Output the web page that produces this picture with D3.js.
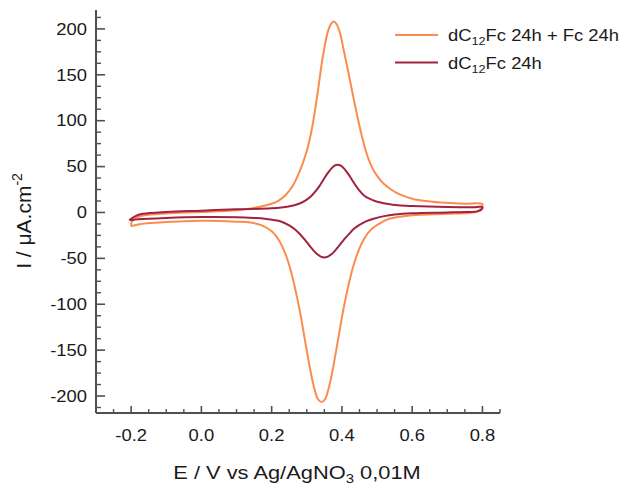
<!DOCTYPE html>
<html>
<head>
<meta charset="utf-8">
<script src="https://cdn.jsdelivr.net/npm/d3@7"></script>
<style>
  html, body { margin: 0; padding: 0; background: #fff; }
  svg { display: block; }
  text { font-family: "Liberation Sans", Arial, Helvetica, sans-serif; fill: #1a1a1a; }
</style>
</head>
<body>
<svg id="chart" width="625" height="485"></svg>
<script>
// ---- Data ----
const seriesNames = ["dC12Fc 24h + Fc 24h", "dC12Fc 24h"];

// Orange: dC12Fc 24h + Fc 24h — anodic (forward) scan
const orangeAnodicE = [-0.2, -0.198, -0.19, -0.17, -0.1, 0.0, 0.1, 0.15, 0.2, 0.22, 0.24, 0.26, 0.28, 0.30, 0.315, 0.33, 0.345, 0.36, 0.37, 0.377, 0.385, 0.395, 0.405, 0.415, 0.425, 0.435, 0.445, 0.455, 0.465, 0.475, 0.49, 0.505, 0.52, 0.54, 0.56, 0.6, 0.65, 0.7, 0.75, 0.8];
const orangeAnodicI = [-15, -10, -6.5, -3.5, -1, 0.5, 2.5, 5, 9.5, 13, 19, 29, 45, 67, 92, 128, 168, 197, 206, 208, 205, 195, 177, 159, 140, 121, 103, 86, 71, 59, 46, 37.5, 31, 25, 20.5, 15, 12, 10.5, 9.6, 9];
// Orange — cathodic (reverse) scan
const orangeCathodicE = [0.797, 0.785, 0.76, 0.7, 0.6, 0.56, 0.53, 0.512, 0.482, 0.462, 0.442, 0.427, 0.412, 0.402, 0.392, 0.382, 0.372, 0.362, 0.352, 0.342, 0.332, 0.322, 0.312, 0.302, 0.292, 0.282, 0.272, 0.257, 0.242, 0.222, 0.202, 0.172, 0.14, 0.1, 0.05, 0.0, -0.1, -0.18, -0.2];
const orangeCathodicI = [5, 1, -0.5, -1.5, -3, -5, -7.5, -11, -19, -29.5, -47, -66, -91, -110, -132, -154, -175, -192, -203.5, -206.5, -203.5, -192.5, -175.5, -155, -133, -111, -92, -67, -48, -31, -21, -14, -11, -10, -9.2, -9, -10.5, -13, -15];

// Red: dC12Fc 24h — anodic scan
const redAnodicE = [-0.205, -0.2, -0.185, -0.166, -0.1, 0.0, 0.1, 0.2, 0.248, 0.278, 0.298, 0.313, 0.328, 0.338, 0.348, 0.358, 0.368, 0.378, 0.388, 0.398, 0.408, 0.418, 0.428, 0.438, 0.448, 0.463, 0.478, 0.498, 0.528, 0.56, 0.6, 0.7, 0.78, 0.8];
const redAnodicI = [-9, -7, -3.5, -1.5, 0.5, 2, 3.5, 4.5, 6.5, 9.5, 13.5, 18, 24.5, 30, 36, 42, 47, 50.7, 52, 50.7, 47, 42, 36, 30, 24.7, 18.5, 15, 12, 9.5, 7.8, 7, 6, 5.8, 6];
// Red — cathodic scan
const redCathodicE = [0.797, 0.785, 0.75, 0.7, 0.6, 0.55, 0.52, 0.49, 0.47, 0.45, 0.435, 0.42, 0.41, 0.4, 0.39, 0.38, 0.37, 0.36, 0.35, 0.34, 0.33, 0.32, 0.31, 0.3, 0.29, 0.28, 0.265, 0.25, 0.23, 0.21, 0.18, 0.15, 0.1, 0.0, -0.1, -0.18, -0.2];
const redCathodicI = [3, 1.2, 0.5, 0, -0.8, -2.2, -4, -6.8, -9.5, -13.5, -17.5, -23.5, -27.7, -32.4, -37.3, -41.8, -45.6, -48.1, -49, -48.1, -45.6, -41.8, -37.3, -32.4, -27.7, -23.5, -18.1, -14.1, -10.4, -8.5, -6.8, -6, -5.2, -5, -6, -7.5, -8.5];

// Ticks
const xMajorTicks = [-0.2, 0.0, 0.2, 0.4, 0.6, 0.8];
const xTickLabels = ["-0.2", "0.0", "0.2", "0.4", "0.6", "0.8"];
const xMinorTicks = [-0.25, -0.15, -0.1, -0.05, 0.05, 0.1, 0.15, 0.25, 0.3, 0.35, 0.45, 0.5, 0.55, 0.65, 0.7, 0.75, 0.85];
const yMajorTicks = [-200, -150, -100, -50, 0, 50, 100, 150, 200];
const yTickLabels = ["-200", "-150", "-100", "-50", "0", "50", "100", "150", "200"];
const yMinorTicks = d3.range(-212.5, 215, 12.5).filter(v => v % 50 !== 0);

// ---- Layout ----
const svg = d3.select("#chart");
const colors = ["#fc8c4d", "#a3223e"];
const stretch = 1.15;

const x = d3.scaleLinear().domain([-0.3, 0.85]).range([96, 500]);
const y = d3.scaleLinear().domain([-218.5, 220.6]).range([413, 10]);

const axisColor = "#505050";

// Y axis
const yAxisG = svg.append("g").attr("transform", `translate(${x(-0.3)},0)`);
yAxisG.append("line").attr("x1", 0).attr("x2", 0).attr("y1", y(-218.5)).attr("y2", y(220.6))
  .attr("stroke", axisColor).attr("stroke-width", 2);
yAxisG.selectAll(".ymaj").data(yMajorTicks).join("line")
  .attr("x1", 0).attr("x2", 9).attr("y1", d => y(d)).attr("y2", d => y(d))
  .attr("stroke", axisColor).attr("stroke-width", 1.6);
yAxisG.selectAll(".ymin").data(yMinorTicks).join("line")
  .attr("x1", 0).attr("x2", 5).attr("y1", d => y(d)).attr("y2", d => y(d))
  .attr("stroke", axisColor).attr("stroke-width", 1.4);
yAxisG.selectAll(".ylab").data(yMajorTicks).join("g")
  .attr("transform", d => `translate(-9,${y(d)}) scale(${stretch},1)`)
  .append("text")
  .attr("text-anchor", "end").attr("dy", "0.36em")
  .attr("font-size", 16)
  .text((d, i) => yTickLabels[i]);

// X axis
const xAxisG = svg.append("g").attr("transform", `translate(0,${y(-218.5)})`);
xAxisG.append("line").attr("x1", x(-0.3)).attr("x2", x(0.85)).attr("y1", 0).attr("y2", 0)
  .attr("stroke", axisColor).attr("stroke-width", 2);
xAxisG.selectAll(".xmaj").data(xMajorTicks).join("line")
  .attr("x1", d => x(d)).attr("x2", d => x(d)).attr("y1", 0).attr("y2", -7)
  .attr("stroke", axisColor).attr("stroke-width", 1.6);
xAxisG.selectAll(".xmin").data(xMinorTicks).join("line")
  .attr("x1", d => x(d)).attr("x2", d => x(d)).attr("y1", 0).attr("y2", -4)
  .attr("stroke", axisColor).attr("stroke-width", 1.4);
xAxisG.selectAll(".xlab").data(xMajorTicks).join("g")
  .attr("transform", d => `translate(${x(d)},28) scale(${stretch},1)`)
  .append("text")
  .attr("text-anchor", "middle")
  .attr("font-size", 16)
  .text((d, i) => xTickLabels[i]);

// Axis titles
const xt = svg.append("g").attr("transform", `translate(297,479) scale(${stretch},1)`)
  .append("text").attr("text-anchor", "middle").attr("font-size", 19);
xt.append("tspan").text("E / V vs Ag/AgNO");
xt.append("tspan").attr("font-size", 13).attr("dy", 4).text("3");
xt.append("tspan").attr("dy", -4).text(" 0,01M");

const yt = svg.append("g").attr("transform", `translate(31,221) rotate(-90)`)
  .append("text").attr("text-anchor", "middle").attr("font-size", 21);
yt.append("tspan").text("I / μA.cm");
yt.append("tspan").attr("font-size", 14).attr("dy", -9).text("-2");

// Curves
const line = d3.line().x(d => x(d[0])).y(d => y(d[1])).curve(d3.curveCatmullRom.alpha(0.5));
const orangePts = orangeAnodicE.map((e, i) => [e, orangeAnodicI[i]])
  .concat(orangeCathodicE.map((e, i) => [e, orangeCathodicI[i]]));
const redPts = redAnodicE.map((e, i) => [e, redAnodicI[i]])
  .concat(redCathodicE.map((e, i) => [e, redCathodicI[i]]));
const curves = [orangePts, redPts];

svg.append("g").selectAll("path").data(curves).join("path")
  .attr("d", d => line(d))
  .attr("fill", "none")
  .attr("stroke", (d, i) => colors[i])
  .attr("stroke-width", 2)
  .attr("stroke-linejoin", "round");

// Legend
const legendY = [35, 62.5];
const lg = svg.append("g");
seriesNames.forEach((name, i) => {
  lg.append("line").attr("x1", 395).attr("x2", 438).attr("y1", legendY[i]).attr("y2", legendY[i])
    .attr("stroke", colors[i]).attr("stroke-width", 2);
  const t = lg.append("g").attr("transform", `translate(448,${legendY[i] + 6}) scale(${stretch},1)`)
    .append("text").attr("font-size", 16);
  const m = name.match(/^dC(\d+)(.*)$/);
  t.append("tspan").text("dC");
  t.append("tspan").attr("font-size", 11).attr("dy", 4).text(m[1]);
  t.append("tspan").attr("dy", -4).text(m[2]);
});
</script>
</body>
</html>
